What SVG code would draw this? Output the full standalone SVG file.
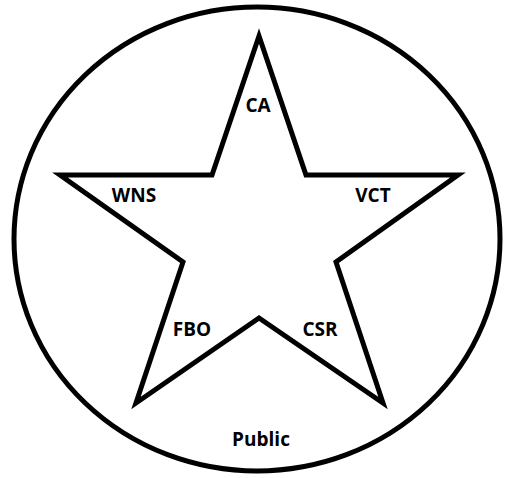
<svg xmlns="http://www.w3.org/2000/svg" width="505" height="478" viewBox="0 0 505 478">
<style>
.ln{fill:none;stroke:#000;stroke-width:5;stroke-linejoin:miter;stroke-miterlimit:10}
.lb{font-family:"Open Sans","Liberation Sans",sans-serif;font-weight:bold;font-size:19px;fill:#000;text-anchor:middle}
</style>
<rect width="505" height="478" fill="#fff"/>
<g id="public">
<ellipse class="ln" cx="257" cy="239" rx="243" ry="232"/>
<text class="lb" x="261" y="446">Public</text>
</g>
<g id="star">
<polygon class="ln" points="259,36 306,175 458,175 336,262 383,403 259,318 136,403 183,262 60,175 212,175"/>
</g>
<g id="ca"><text class="lb" x="258" y="112">CA</text></g>
<g id="wns"><text class="lb" x="134" y="202">WNS</text></g>
<g id="vct"><text class="lb" x="373" y="202">VCT</text></g>
<g id="fbo"><text class="lb" x="192" y="336">FBO</text></g>
<g id="csr"><text class="lb" x="320" y="336">CSR</text></g>
<g id="connectors"></g>
</svg>
